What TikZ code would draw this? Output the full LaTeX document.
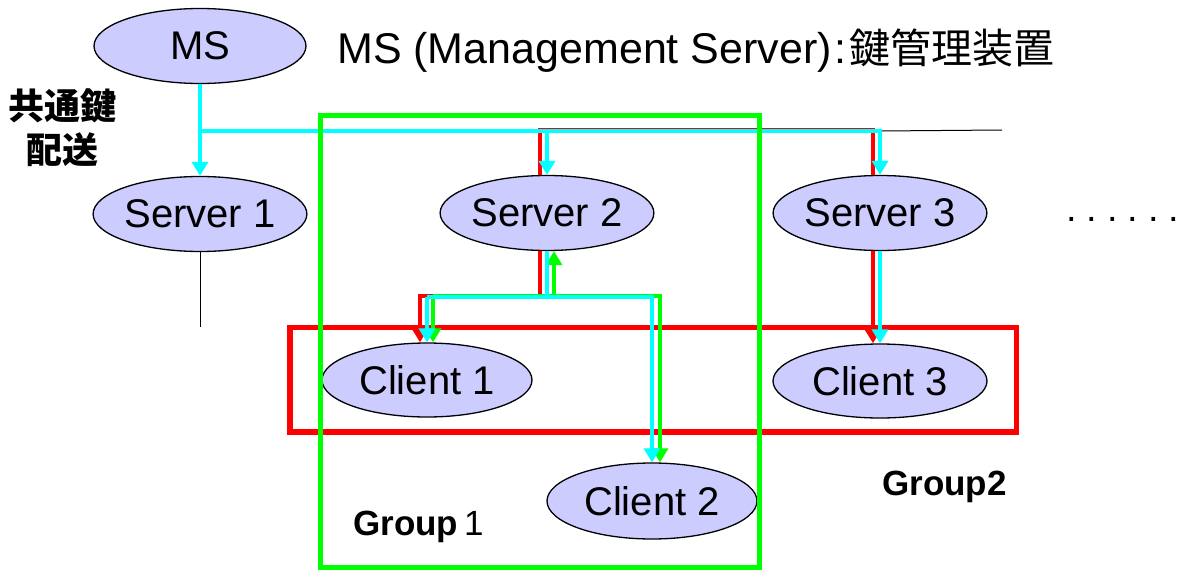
\documentclass[tikz,border=0pt]{standalone}
\usepackage{fontspec}
\setmainfont{Liberation Sans}
\newfontfamily\cjk{Noto Sans CJK JP}
\usetikzlibrary{shapes.geometric,arrows.meta}
\definecolor{ellfill}{RGB}{204,204,255}
\definecolor{cyanc}{RGB}{0,255,255}
\definecolor{redc}{RGB}{255,0,0}
\definecolor{greenc}{RGB}{0,255,0}
\newcommand{\dotbox}{\makebox[20.5pt][l]{.}}
\tikzset{
  ell/.style={ellipse, draw=black, line width=1.3pt, fill=ellfill, inner sep=0pt,
    font=\fontsize{40}{48}\selectfont, minimum width=212pt, minimum height=75pt},
  cy/.style={draw=cyanc, line width=3.6pt},
  rd/.style={draw=redc, line width=3.6pt},
  gr/.style={draw=greenc, line width=3.6pt},
  arr/.style={-{Triangle[width=16pt,length=14pt]}},
  grp/.style={font=\fontsize{35}{40}\selectfont\bfseries, inner sep=0pt, anchor=base west},
}
\begin{document}
\begin{tikzpicture}[x=1pt,y=-1pt]
\useasboundingbox (0,0) rectangle (1179,570);
% ellipses
\node[ell] (MS) at (200,46) {MS};
\node[ell] (S1) at (200,214) {Server 1};
\node[ell] (S2) at (547,213) {Server 2};
\node[ell] (S3) at (880,213) {Server 3};
\node[ell, minimum width=210pt, minimum height=74pt] (C1) at (427,380) {Client 1};
\node[ell, minimum width=214pt, minimum height=74pt] (C3) at (880,381) {Client 3};
\node[ell, minimum width=210pt, minimum height=76pt] (C2) at (652,501) {Client 2};
% texts
\node[anchor=base west, inner sep=0pt, font=\fontsize{43}{48}\selectfont] (title) at (337,63)
  {MS (Management Server)\kern3pt:\kern3pt{\cjk\fontsize{41}{48}\selectfont 鍵管理装置}};
\node[align=center, inner sep=0pt, font=\fontsize{36}{44}\selectfont\cjk\bfseries] (kdist) at (63,128)
  {共通鍵\\配送};
\node[grp] (g1) at (353,535) {Group\,{\mdseries 1}};
\node[grp] (g2) at (882,495) {Group2};
\node[anchor=base west, inner sep=0pt, font=\fontsize{38}{44}\selectfont] (dots) at (1066,221)
  {\dotbox\dotbox\dotbox\dotbox\dotbox\makebox[5pt][l]{.}};
% red group box
\draw[redc, line width=5.5pt] (290,327.5) rectangle (1016.5,432);
% coordinates
\coordinate (busC) at (200,131);
\coordinate (busR) at (0,130);
\coordinate (lvR) at (0,296);
\coordinate (lvC) at (0,297);
\coordinate (lineEnd) at (1002,130);
\coordinate (s1End) at (200,327);
\coordinate (r2) at ([xshift=-7pt]S2.north);
\coordinate (r3) at ([xshift=-7pt]S3.north);
\coordinate (r2b) at ([xshift=-7pt]S2.south);
\coordinate (g2b) at ([xshift=7pt]S2.south);
\coordinate (rc1) at ([xshift=-7pt]C1.north);
\coordinate (gc1) at ([xshift=6pt]C1.north);
\coordinate (gc2) at ([xshift=8pt]C2.north);
\coordinate (rc3) at ([xshift=-7pt]C3.north);
% thin black lines
\draw[black, line width=1pt] (S3.north |- busC) -- (lineEnd);
\draw[black, line width=1pt] (S1.south) -- (s1End);
% top distribution: red under cyan
\draw[rd] (r2) -- (r2 |- busR) -- (r3 |- busR) -- (r3);
\draw[cy, arr] (MS.south) -- (S1.north);
\draw[cy, arr] (busC) -| (S3.north);
\draw[cy, arr] (S2.north |- busC) -- (S2.north);
% Server 2 to clients
\draw[rd] (r2b) -- (r2b |- lvR);
\draw[rd, arr] (r2b |- lvR) -| (rc1);
\draw[gr, arr] (g2b |- lvR) -- (g2b);
\draw[gr, arr] (gc1 |- lvR) -| (gc2);
\draw[gr, arr] (gc1 |- lvR) -- (gc1);
\draw[cy] (S2.south) -- (S2.south |- lvC);
\draw[cy, arr] (C1.north |- lvC) -| (C2.north);
\draw[cy, arr] (C1.north |- lvC) -- (C1.north);
% Server 3 to Client 3
\draw[rd, arr] ([xshift=-7pt]S3.south) -- (rc3);
\draw[cy, arr] (S3.south) -- (C3.north);
% green group box on top
\draw[greenc, line width=5pt] (320.5,115.5) rectangle (759,567.5);
\end{tikzpicture}
\end{document}
